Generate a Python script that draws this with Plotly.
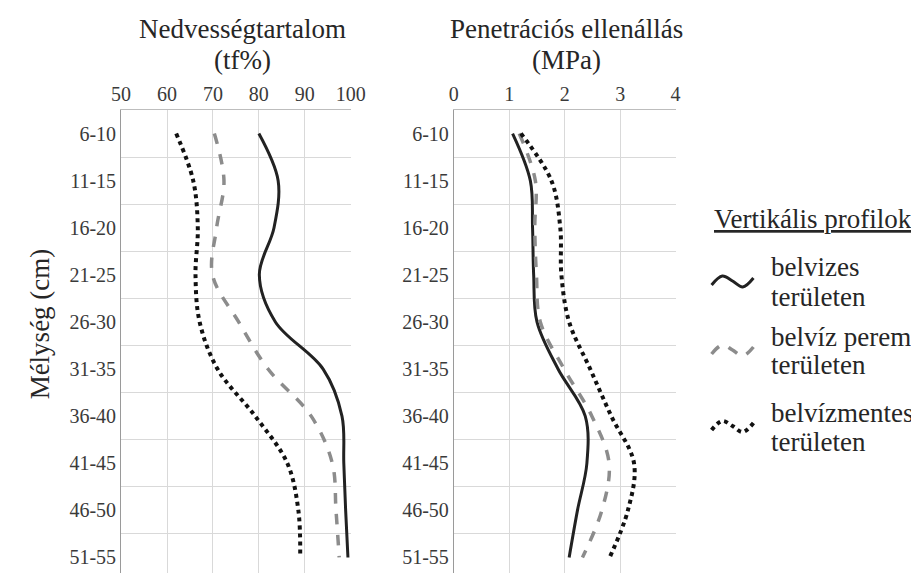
import plotly.graph_objects as go

W, H = 919, 573

# ---------------- data ----------------
depth = ["6-10", "11-15", "16-20", "21-25", "26-30",
         "31-35", "36-40", "41-45", "46-50", "51-55"]

moist_ticks = [50, 60, 70, 80, 90, 100]
pen_ticks = [0, 1, 2, 3, 4]

# Nedvességtartalom (tf%)
moist_belvizes = [80.0, 84.2, 83.3, 80.1, 83.6, 94.0, 98.1, 98.5, 98.9, 99.4]
moist_perem = [70.3, 72.4, 70.8, 69.9, 75.6, 82.0, 91.4, 96.0, 96.8, 97.5]
moist_mentes = [62.0, 65.7, 66.7, 66.2, 67.1, 71.0, 79.2, 86.2, 88.6, 89.0]

# Penetrációs ellenállás (MPa)
pen_belvizes = [1.06, 1.38, 1.42, 1.44, 1.50, 1.88, 2.37, 2.40, 2.23, 2.08]
pen_perem = [1.18, 1.47, 1.46, 1.49, 1.56, 1.99, 2.49, 2.80, 2.67, 2.32]
pen_mentes = [1.21, 1.76, 1.92, 1.94, 2.08, 2.46, 2.84, 3.25, 3.14, 2.81]

series_names = ["belvizes területen", "belvíz peremi területen", "belvízmentes területen"]

FONT = "Liberation Serif"
TXT = "#262626"
TICK = "#3a3a3a"
GRID = "#d9d9d9"

styles = [
    dict(color="#222222", width=3, dash="solid"),
    dict(color="#8c8c8c", width=3.5, dash="dash"),
    dict(color="#111111", width=4, dash="dot"),
]

fig = go.Figure()
for vals, st, nm in zip([moist_belvizes, moist_perem, moist_mentes], styles, series_names):
    fig.add_trace(go.Scatter(x=vals, y=depth, mode="lines", name=nm,
                             line=dict(shape="spline", smoothing=1.0, **st),
                             xaxis="x", yaxis="y", showlegend=False))
for vals, st, nm in zip([pen_belvizes, pen_perem, pen_mentes], styles, series_names):
    fig.add_trace(go.Scatter(x=vals, y=depth, mode="lines", name=nm,
                             line=dict(shape="spline", smoothing=1.0, **st),
                             xaxis="x2", yaxis="y2", showlegend=False))


def fx(p):
    return p / W


def fy(p):
    return 1 - p / H


# legend glyphs (wavy key symbols) drawn on an overlay pixel-scaled axis pair
legend_rows = [(259, 289, 274), (329, 357, 343), (405, 434, 419)]
for (y1, y2, yc), st, nm in zip(legend_rows, styles, series_names):
    gx = [713, 724, 734.5, 745, 756]
    gy = [yc + 3, yc - 6, yc - 1, yc + 5, yc - 4]
    fig.add_trace(go.Scatter(x=gx, y=gy, mode="lines", name=nm,
                             line=dict(shape="spline", smoothing=1.0, **st),
                             xaxis="x3", yaxis="y3", showlegend=False,
                             hoverinfo="skip"))

top = 102
ydom = [0, fy(top)]

common_x = dict(side="top", showgrid=True, gridcolor=GRID, gridwidth=1,
                showline=True, linecolor="#bdbdbd", linewidth=1, ticks="",
                zeroline=False, tickfont=dict(family=FONT, size=20, color=TICK))
common_y = dict(type="category", showgrid=True, gridcolor=GRID, gridwidth=1,
                tickson="boundaries", ticks="", showline=True, linecolor="#9a9a9a",
                linewidth=1, tickfont=dict(family=FONT, size=20, color=TICK),
                range=[9.5, -0.5])

fig.update_layout(
    width=W, height=H,
    font=dict(family=FONT, color=TXT),
    margin=dict(l=0, r=0, t=0, b=0),
    paper_bgcolor="white", plot_bgcolor="rgba(0,0,0,0)",
    showlegend=False,
    xaxis=dict(domain=[fx(106), fx(342)], range=[50, 100], tickvals=moist_ticks,
               anchor="y", **common_x),
    yaxis=dict(domain=ydom, anchor="x", **common_y),
    xaxis2=dict(domain=[fx(448), fx(676)], range=[0, 4], tickvals=pen_ticks,
                anchor="y2", **common_x),
    yaxis2=dict(domain=ydom, anchor="x2", **common_y),
    xaxis3=dict(domain=[0, 1], range=[0, W], visible=False, anchor="y3"),
    yaxis3=dict(domain=[0, 1], range=[H, 0], visible=False, anchor="x3"),
)


def txt(text, x, y, size=27, xanchor="center", angle=0):
    fig.add_annotation(text=text, x=fx(x), y=fy(y), xref="paper", yref="paper",
                       xanchor=xanchor, yanchor="middle", showarrow=False,
                       align=("left" if xanchor == "left" else "center"),
                       textangle=angle,
                       font=dict(family=FONT, size=size, color=TXT))


# panel titles
txt("Nedvességtartalom", 231, 21)
txt("(tf%)", 231, 52)
txt("Penetrációs ellenállás", 564, 21)
txt("(MPa)", 564, 52)
# y title
txt("Mélység (cm)", 23, 316, angle=-90)
# legend texts
txt("<u>Vertikális profilok</u>", 713, 211, xanchor="left")
legend_first = ["belvizes", "belvíz peremi", "belvízmentes"]
for (y1, y2, yc), first in zip(legend_rows, legend_first):
    txt(first, 772, y1, xanchor="left")
    txt("területen", 772, y2, xanchor="left")

# make sure the serif face is used for every text element of the figure
serif_css = (
    "var st=document.createElement('style');"
    "st.textContent=\".main-svg text, .main-svg tspan{font-family:'Liberation Serif',"
    "'Times New Roman',Tinos,'DejaVu Serif','Noto Serif',serif !important;}\";"
    "document.head.appendChild(st);"
)

fig.write_html("out.html", post_script=serif_css)
